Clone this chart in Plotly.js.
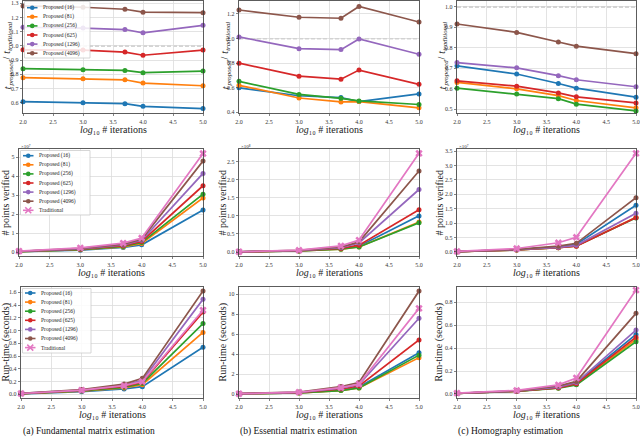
<!DOCTYPE html>
<html><head><meta charset="utf-8">
<script src="https://cdn.plot.ly/plotly-3.0.1.min.js"></script>
<style>html,body{margin:0;padding:0;background:#fff}#chart{width:640px;height:439px}</style>
</head><body><div id="chart"></div>
<script>
// ---------------- DATA ----------------
const iterations = [2.0, 3.0, 3.699, 4.0, 5.0];   // log10 # iterations
const xTickVals = [2.0, 2.5, 3.0, 3.5, 4.0, 4.5, 5.0];
const seriesNames = ['Proposed (16)', 'Proposed (81)', 'Proposed (256)', 'Proposed (625)', 'Proposed (1296)', 'Proposed (4096)', 'Traditional'];
const seriesColors = ['#1f77b4', '#ff7f0e', '#2ca02c', '#d62728', '#9467bd', '#8c564b', '#e377c2'];
const baselineRatio = 1.0;

// Row 1: t_proposed / t_traditional
const fundamentalRatio = [
  [0.607, 0.600, 0.593, 0.574, 0.558],
  [0.776, 0.768, 0.761, 0.738, 0.719],
  [0.839, 0.832, 0.827, 0.811, 0.822],
  [0.972, 0.970, 0.956, 0.934, 0.970],
  [1.131, 1.125, 1.115, 1.092, 1.145],
  [1.281, 1.272, 1.258, 1.237, 1.234]
];
const essentialRatio = [
  [0.600, 0.535, 0.520, 0.488, 0.550],
  [0.620, 0.517, 0.485, 0.488, 0.437],
  [0.652, 0.546, 0.514, 0.493, 0.464],
  [0.800, 0.694, 0.670, 0.744, 0.628],
  [1.013, 0.918, 0.910, 0.997, 0.872],
  [1.232, 1.173, 1.165, 1.260, 1.134]
];
const homographyRatio = [
  [0.712, 0.672, 0.626, 0.603, 0.559],
  [0.631, 0.600, 0.567, 0.543, 0.507],
  [0.603, 0.575, 0.552, 0.525, 0.492],
  [0.639, 0.613, 0.580, 0.561, 0.531],
  [0.728, 0.702, 0.664, 0.644, 0.610],
  [0.916, 0.875, 0.828, 0.808, 0.771]
];
// Row 2: # points verified (fundamental x1e7, essential x1e8, homography x1e7)
const fundamentalPoints = [
  [0.02, 0.10, 0.24, 0.38, 2.22],
  [0.02, 0.12, 0.27, 0.45, 2.85],
  [0.02, 0.13, 0.29, 0.50, 3.05],
  [0.03, 0.15, 0.33, 0.56, 3.50],
  [0.03, 0.17, 0.37, 0.62, 4.15],
  [0.04, 0.19, 0.41, 0.68, 4.80],
  [0.05, 0.22, 0.47, 0.74, 5.20]
];
const essentialPoints = [
  [0.005, 0.030, 0.09, 0.16, 1.00],
  [0.005, 0.030, 0.08, 0.14, 0.83],
  [0.005, 0.030, 0.08, 0.14, 0.81],
  [0.005, 0.035, 0.10, 0.19, 1.17],
  [0.006, 0.040, 0.12, 0.25, 1.73],
  [0.007, 0.045, 0.14, 0.28, 2.24],
  [0.008, 0.050, 0.17, 0.33, 2.73]
];
const homographyPoints = [
  [0.01, 0.08, 0.18, 0.27, 1.62],
  [0.01, 0.07, 0.15, 0.21, 1.20],
  [0.01, 0.07, 0.15, 0.21, 1.18],
  [0.01, 0.07, 0.15, 0.20, 1.19],
  [0.01, 0.08, 0.16, 0.23, 1.34],
  [0.01, 0.09, 0.20, 0.30, 1.88],
  [0.02, 0.12, 0.32, 0.51, 3.42]
];
// Row 3: run-time (seconds)
const fundamentalTime = [
  [0.008, 0.040, 0.085, 0.12, 0.74],
  [0.010, 0.050, 0.100, 0.15, 0.97],
  [0.011, 0.055, 0.110, 0.17, 1.11],
  [0.012, 0.060, 0.125, 0.19, 1.29],
  [0.014, 0.065, 0.140, 0.22, 1.49],
  [0.016, 0.075, 0.160, 0.25, 1.62],
  [0.013, 0.065, 0.135, 0.20, 1.32]
];
const essentialTime = [
  [0.02, 0.12, 0.40, 0.70, 4.15],
  [0.02, 0.11, 0.35, 0.60, 3.65],
  [0.02, 0.11, 0.35, 0.60, 3.90],
  [0.03, 0.14, 0.50, 0.80, 5.42],
  [0.03, 0.17, 0.60, 0.95, 7.60],
  [0.04, 0.20, 0.75, 1.15, 10.33],
  [0.03, 0.18, 0.65, 1.00, 8.60]
];
const homographyTime = [
  [0.005, 0.025, 0.055, 0.095, 0.520],
  [0.005, 0.024, 0.053, 0.085, 0.477],
  [0.005, 0.023, 0.050, 0.080, 0.457],
  [0.005, 0.024, 0.054, 0.090, 0.495],
  [0.005, 0.026, 0.060, 0.100, 0.558],
  [0.006, 0.028, 0.070, 0.110, 0.704],
  [0.007, 0.032, 0.080, 0.140, 0.907]
];
const captions = ['(a) Fundamental matrix estimation', '(b) Essential matrix estimation', '(c) Homography estimation'];
// ratio title pieces: t_proposed / t_traditional
const ratioTitleParts = [
  {text: 't', sub: false, italic: true},
  {text: 'proposed', sub: true, italic: true},
  {text: ' / ', sub: false, italic: false},
  {text: 't', sub: false, italic: true},
  {text: 'traditional', sub: true, italic: true}
];
const yTitles = [null, '# points verified', 'Run-time (seconds)'];
const xTitle = '<i>log</i>₁₀ # iterations';
const exponentLabels = ['×10⁷', '×10⁸', '×10⁷'];

// ---------------- LAYOUT ----------------
const W = 640, H = 439;
const px = p => p / W;
const py = p => 1 - p / H;
const FONT = 'Liberation Serif, DejaVu Serif, serif';
const ctx = document.createElement('canvas').getContext('2d');
function textWidth(str, size, italic) {
  ctx.font = (italic ? 'italic ' : '') + size + 'px "Liberation Serif"';
  return ctx.measureText(str).width;
}

const rowY = [[1, 113], [149, 256], [287, 398]];
const colX = [
  [[23, 203], [19, 203], [21, 203]],
  [[239, 419], [239, 419], [239, 419]],
  [[457, 636], [457, 636], [457, 636]]
];
const panels = [
  {data: fundamentalRatio, range: [0.527, 1.316], dtick: 0.1, fmt: '.1f', base: true},
  {data: essentialRatio, range: [0.395, 1.305], dtick: 0.2, fmt: '.1f', base: true},
  {data: homographyRatio, range: [0.482, 1.028], dtick: 0.1, fmt: '.1f', base: true},
  {data: fundamentalPoints, range: [-0.21, 5.44], dtick: 1, fmt: 'd'},
  {data: essentialPoints, range: [-0.11, 2.85], dtick: 0.5, fmt: '.1f'},
  {data: homographyPoints, range: [-0.14, 3.57], dtick: 0.5, fmt: '.1f'},
  {data: fundamentalTime, range: [-0.058, 1.684], dtick: 0.2, fmt: '.1f'},
  {data: essentialTime, range: [-0.40, 10.74], dtick: 2, fmt: 'd'},
  {data: homographyTime, range: [-0.035, 0.934], dtick: 0.2, fmt: '.1f'}
];
const yTitleX = [[7, 225, 442], [5, 222, 439], [5, 222, 438]];
const xTitleY = [129, 272, 414];
const captionX = [89, 298, 510];
const TITLE_SIZE = 10, SUB_SIZE = 6.8;

const traces = [];
const layout = {
  width: W, height: H,
  margin: {l: 0, r: 0, t: 0, b: 0},
  paper_bgcolor: '#fff', plot_bgcolor: '#fff',
  showlegend: false,
  font: {family: FONT, color: '#222', size: 6},
  shapes: [], annotations: []
};

function addRatioTitle(cxPx, cyPx) {
  const widths = ratioTitleParts.map(p => textWidth(p.text, p.sub ? SUB_SIZE : TITLE_SIZE, p.italic));
  const total = widths.reduce((a, b) => a + b, 0);
  let start = cyPx + total / 2;   // text reads bottom -> top
  ratioTitleParts.forEach((p, k) => {
    layout.annotations.push({xref: 'paper', yref: 'paper', x: px(cxPx + (p.sub ? 3 : 0)), y: py(start),
      text: p.text, textangle: -90, showarrow: false, xanchor: 'center', yanchor: 'bottom', borderpad: 0,
      font: {family: FONT, size: p.sub ? SUB_SIZE : TITLE_SIZE, color: '#222', style: p.italic ? 'italic' : 'normal'}});
    start -= widths[k];
  });
}

panels.forEach((p, i) => {
  const r = Math.floor(i / 3), c = i % 3;
  const xa = i === 0 ? 'x' : 'x' + (i + 1);
  const ya = i === 0 ? 'y' : 'y' + (i + 1);
  const xk = i === 0 ? 'xaxis' : 'xaxis' + (i + 1);
  const yk = i === 0 ? 'yaxis' : 'yaxis' + (i + 1);
  const xd = colX[c][r];
  const axCommon = {
    showline: true, mirror: true, linecolor: '#333', linewidth: 0.8,
    showgrid: true, gridcolor: '#dcdcdc', gridwidth: 0.8, zeroline: false,
    ticks: 'outside', ticklen: 2.5, tickwidth: 0.6, tickcolor: '#333',
    tickfont: {family: FONT, size: 6, color: '#333'}, automargin: false
  };
  layout[xk] = Object.assign({}, axCommon, {
    domain: [px(xd[0]), px(xd[1])], anchor: ya, range: [2, 5],
    tickvals: xTickVals, tickformat: '.1f'
  });
  layout[yk] = Object.assign({}, axCommon, {
    domain: [py(rowY[r][1]), py(rowY[r][0])], anchor: xa, range: p.range,
    tick0: 0, dtick: p.dtick, tickformat: p.fmt
  });
  if (p.base) {
    layout.shapes.push({type: 'line', xref: xa + ' domain', yref: ya, x0: 0, x1: 1,
      y0: baselineRatio, y1: baselineRatio, line: {color: '#aaaaaa', width: 1.3, dash: '4px,2px'}, layer: 'below'});
  }
  p.data.forEach((vals, s) => {
    const trad = s === 6;
    traces.push({
      type: 'scatter', mode: 'lines+markers', x: iterations, y: vals,
      xaxis: xa, yaxis: ya, name: seriesNames[s], showlegend: false, cliponaxis: false,
      line: {color: seriesColors[s], width: 1.7},
      marker: trad ? {symbol: 'x', size: 6.5, color: seriesColors[s], line: {width: 0}}
                   : {symbol: 'circle', size: 5, color: seriesColors[s]}
    });
  });
  // axis titles
  layout.annotations.push({xref: 'paper', yref: 'paper', x: px((xd[0] + xd[1]) / 2), y: py(xTitleY[r]),
    text: xTitle, showarrow: false, xanchor: 'center', yanchor: 'middle', font: {family: FONT, size: TITLE_SIZE, color: '#222'}});
  const cy = (rowY[r][0] + rowY[r][1]) / 2;
  if (r === 0) {
    addRatioTitle(yTitleX[r][c], cy);
  } else {
    layout.annotations.push({xref: 'paper', yref: 'paper', x: px(yTitleX[r][c]), y: py(cy),
      text: yTitles[r], textangle: -90, showarrow: false, xanchor: 'center', yanchor: 'middle',
      font: {family: FONT, size: TITLE_SIZE, color: '#222'}});
  }
  if (r === 1) {
    layout.annotations.push({xref: 'paper', yref: 'paper', x: px(xd[0]), y: py(146),
      text: exponentLabels[c], showarrow: false, xanchor: 'left', yanchor: 'middle',
      font: {family: FONT, size: 5, color: '#333'}});
  }
  if (r === 2) {
    layout.annotations.push({xref: 'paper', yref: 'paper', x: px(captionX[c]), y: py(431),
      text: captions[c], showarrow: false, xanchor: 'center', yanchor: 'middle',
      font: {family: FONT, size: 9.5, color: '#111'}});
  }
});

// ---------------- Legends (first column) ----------------
const legendBoxes = [
  {box: [24.5, 1.5, 90, 58], first: 7.7, n: 6},
  {box: [20.5, 150.5, 90, 215], first: 155.7, n: 7},
  {box: [22.5, 288.5, 91, 353], first: 293, n: 7}
];
const legendStep = 9.1;
legendBoxes.forEach(L => {
  const [x0, y0, x1, y1] = L.box;
  layout.shapes.push({type: 'rect', xref: 'paper', yref: 'paper', x0: px(x0), x1: px(x1), y0: py(y1), y1: py(y0),
    fillcolor: 'rgba(255,255,255,0.85)', line: {color: '#cccccc', width: 0.8}, layer: 'above'});
  for (let s = 0; s < L.n; s++) {
    const yy = L.first + s * legendStep;
    const lx0 = x0 + 2.5, lx1 = x0 + 13;
    layout.shapes.push({type: 'line', xref: 'paper', yref: 'paper', x0: px(lx0), x1: px(lx1), y0: py(yy), y1: py(yy),
      line: {color: seriesColors[s], width: 1.6}, layer: 'above'});
    const cx = px((lx0 + lx1) / 2), cyy = py(yy);
    if (s === 6) {
      layout.shapes.push({type: 'path', xref: 'paper', yref: 'paper', xsizemode: 'pixel', ysizemode: 'pixel',
        xanchor: cx, yanchor: cyy, path: 'M-3,-3L3,3M-3,3L3,-3', line: {color: seriesColors[s], width: 1.6}, layer: 'above'});
    } else {
      layout.shapes.push({type: 'circle', xref: 'paper', yref: 'paper', xsizemode: 'pixel', ysizemode: 'pixel',
        xanchor: cx, yanchor: cyy, x0: -2.3, x1: 2.3, y0: -2.3, y1: 2.3,
        fillcolor: seriesColors[s], line: {color: seriesColors[s], width: 0}, layer: 'above'});
    }
    layout.annotations.push({xref: 'paper', yref: 'paper', x: px(x0 + 16), y: cyy, text: seriesNames[s],
      showarrow: false, xanchor: 'left', yanchor: 'middle', font: {family: FONT, size: 5.5, color: '#222'}});
  }
});

Plotly.newPlot('chart', traces, layout, {staticPlot: true, displayModeBar: false});
</script>
</body></html>
